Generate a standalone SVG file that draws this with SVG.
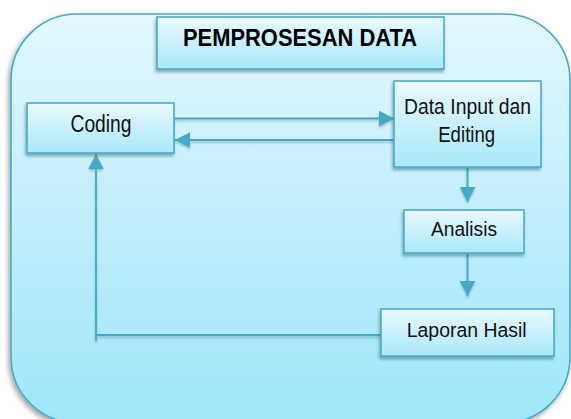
<svg xmlns="http://www.w3.org/2000/svg" width="571" height="419" viewBox="0 0 571 419">
  <defs>
    <linearGradient id="panelFill" x1="0" y1="0" x2="0" y2="1">
      <stop offset="0" stop-color="#e3f7fd"/>
      <stop offset="1" stop-color="#9fe6fb"/>
    </linearGradient>
    <linearGradient id="boxFill" x1="0" y1="0" x2="0" y2="1">
      <stop offset="0" stop-color="#eaf9fe"/>
      <stop offset="1" stop-color="#a9e8fa"/>
    </linearGradient>
    <filter id="panelShadow" x="-10%" y="-10%" width="120%" height="120%">
      <feDropShadow dx="-2" dy="3" stdDeviation="2.5" flood-color="#000" flood-opacity="0.35"/>
    </filter>
    <filter id="boxShadow" x="-10%" y="-10%" width="120%" height="130%">
      <feDropShadow dx="-1" dy="2.5" stdDeviation="1.5" flood-color="#1d4f5e" flood-opacity="0.45"/>
    </filter>
    <filter id="lineShadow" x="-5%" y="-20%" width="110%" height="140%">
      <feDropShadow dx="0" dy="2" stdDeviation="1.2" flood-color="#1d4f5e" flood-opacity="0.3"/>
    </filter>
    <marker id="arrow" markerUnits="userSpaceOnUse" markerWidth="16" markerHeight="16" refX="15" refY="7.75" orient="auto">
      <path d="M0,0 L15,7.75 L0,15.5 Z" fill="#47a9c6"/>
    </marker>
    <style>
      .box { fill: url(#boxFill); stroke: #4dabc7; stroke-width: 1.6; filter: url(#boxShadow); }
      .label { font-family: "Liberation Sans", Arial, sans-serif; fill: #111; text-anchor: middle; }
      .title { font-family: "Liberation Sans", Arial, sans-serif; font-weight: bold; fill: #000; text-anchor: middle; }
      .conn { fill: none; stroke: #47a9c6; stroke-width: 1.8; marker-end: url(#arrow); }
    </style>
  </defs>

  <rect width="571" height="419" fill="#ffffff"/>

  <!-- rounded background panel -->
  <rect x="11" y="14" width="559" height="409" rx="66" ry="66" fill="url(#panelFill)" stroke="#4aa8c5" stroke-width="1.6" filter="url(#panelShadow)"/>

  <!-- title -->
  <g id="title">
    <rect class="box" x="157" y="17" width="287" height="52"/>
    <text class="title" x="300" y="46" font-size="24" textLength="234" lengthAdjust="spacingAndGlyphs">PEMPROSESAN DATA</text>
  </g>

  <!-- connectors -->
  <g id="connectors" filter="url(#lineShadow)">
    <path class="conn" d="M175,118.5 H394"/>
    <path class="conn" d="M394,140 H175"/>
    <path class="conn" d="M467.5,168 V202"/>
    <path class="conn" d="M467.5,254 V296"/>
    <path class="conn" d="M381,335 H96 M96,341 V154"/>
  </g>

  <!-- nodes -->
  <g id="coding">
    <rect class="box" x="27" y="103" width="147" height="50"/>
    <text class="label" x="101" y="131.5" font-size="23" textLength="61" lengthAdjust="spacingAndGlyphs">Coding</text>
  </g>

  <g id="data-input">
    <rect class="box" x="394" y="81" width="147" height="86"/>
    <text class="label" x="467.5" y="113.5" font-size="22.4" textLength="127" lengthAdjust="spacingAndGlyphs">Data Input dan</text>
    <text class="label" x="466.7" y="141.7" font-size="22.4" textLength="57" lengthAdjust="spacingAndGlyphs">Editing</text>
  </g>

  <g id="analisis">
    <rect class="box" x="404" y="210" width="120" height="43"/>
    <text class="label" x="464" y="236" font-size="20" textLength="66" lengthAdjust="spacingAndGlyphs">Analisis</text>
  </g>

  <g id="laporan">
    <rect class="box" x="381" y="309" width="173" height="47"/>
    <text class="label" x="466.7" y="336.7" font-size="19.6" textLength="120" lengthAdjust="spacingAndGlyphs">Laporan Hasil</text>
  </g>
</svg>
